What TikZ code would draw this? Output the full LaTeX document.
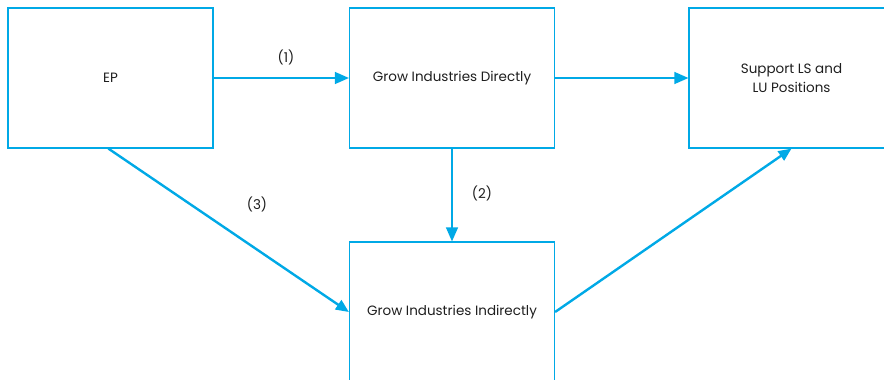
\documentclass[tikz,border=0pt]{standalone}
\usepackage{fontspec}
\setmainfont{Poppins}
\usetikzlibrary{arrows.meta}
\definecolor{cblue}{RGB}{0,169,230}
\definecolor{ctext}{RGB}{30,30,30}
\begin{document}
\begin{tikzpicture}[x=1pt,y=-1pt,
  box/.style={draw=cblue,line width=1.2pt,minimum width=205pt,minimum height=140pt,inner sep=0pt,
    align=center,text=ctext,font=\fontsize{13.5}{19}\selectfont},
  thin/.style={draw=cblue,line width=1.3pt,-{Triangle[length=14pt,width=12pt]}},
  thick/.style={draw=cblue,line width=2.4pt,-{Triangle[length=13pt,width=11pt]}},
  lab/.style={text=ctext,font=\fontsize{13.5}{16}\selectfont,inner sep=0pt}]
\useasboundingbox (0,0) rectangle (884,380);
\clip (0,0) rectangle (884,380);
\node[box] (ep) at (110.5,78) {EP};
\node[box] (gid) at (452,78) {Grow Industries Directly};
\node[box] (sup) at (791.5,78) {Support LS and\\LU Positions};
\node[box] (gii) at (452,312) {Grow Industries Indirectly};
\draw[thin] (ep.east) -- (gid.west);
\draw[thin] (gid.east) -- (sup.west);
\draw[thin] (gid.south) -- (gii.north);
\draw[thick] (ep.south west) ++(101,0) coordinate (a) -- (gii.west);
\draw[thick] (gii.east) -- (sup.south);
\node[lab] (l1) at (286,57) {(1)};
\node[lab] (l2) at (482,193) {(2)};
\node[lab] (l3) at (257,204) {(3)};
\end{tikzpicture}
\end{document}
